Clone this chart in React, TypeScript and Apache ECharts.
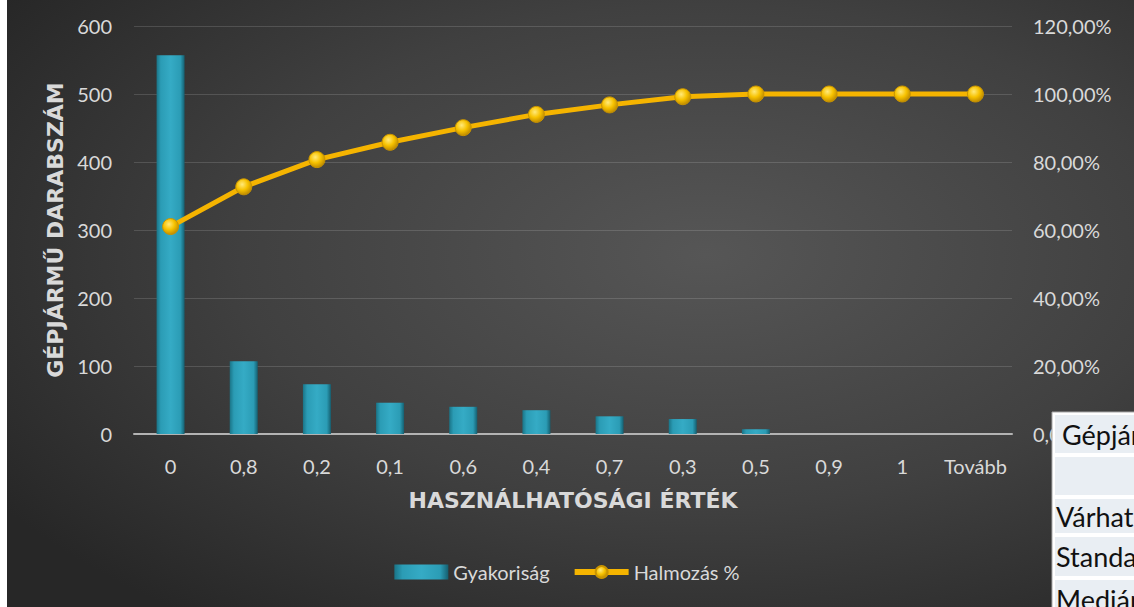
import React, { useEffect, useRef } from "react";
import * as echarts from "echarts";

const categories = ["0", "0,8", "0,2", "0,1", "0,6", "0,4", "0,7", "0,3", "0,5", "0,9", "1", "Tovább"];
const frequency = [557, 107, 73, 46, 40, 35, 26, 22, 7, 0, 0, 0];
const cumulativePct = [61.0, 72.7, 80.7, 85.8, 90.1, 94.0, 96.8, 99.2, 100, 100, 100, 100];
const tableLabels = ["Gépjármű", "", "Várható érték", "Standard hiba", "Medián"];

const FONT = "Lato, 'Open Sans', sans-serif";
const TITLE_FONT = "'DejaVu Sans', Lato, sans-serif";
const LABEL_COLOR = "#d9d9d9";

export default function App() {
  const ref = useRef<HTMLDivElement>(null);

  useEffect(() => {
    document.body.style.margin = "0";
    if (!ref.current) return;
    const chart = echarts.init(ref.current, undefined, { renderer: "svg" });

    const rows = [
      { y: 413, h: 40 },
      { y: 455, h: 40 },
      { y: 497, h: 36 },
      { y: 535, h: 41 },
      { y: 578, h: 40 },
    ];
    const tableGraphics: any[] = [
      { type: "rect", z: 100, shape: { x: 1052, y: 412, width: 90, height: 200 }, style: { fill: "#ffffff", stroke: "#a6a6a6", lineWidth: 1 } },
    ];
    rows.forEach((r, i) => {
      tableGraphics.push({ type: "rect", z: 101, shape: { x: 1055, y: r.y + 2, width: 90, height: r.h - 2 }, style: { fill: "#e9eef3" } });
      if (tableLabels[i]) {
        tableGraphics.push({
          type: "text", z: 102, x: i === 0 ? 1062 : 1056, y: r.y + 2 + (r.h - 2) / 2,
          style: { text: tableLabels[i], fill: "#111111", font: `27px ${FONT}`, verticalAlign: "middle", align: "left" },
        });
      }
    });

    const option: any = {
      animation: false,
      backgroundColor: "#ffffff",
      graphic: [
        {
          type: "rect", z: -10, silent: true,
          shape: { x: 7, y: 0, width: 1127, height: 607 },
          style: {
            fill: new echarts.graphic.RadialGradient(0.62, 0.42, 0.75, [
              { offset: 0, color: "#565656" },
              { offset: 0.55, color: "#404040" },
              { offset: 1, color: "#272727" },
            ]),
          },
        },
        ...tableGraphics,
      ],
      grid: { left: 134, right: 122, top: 26, bottom: 173 },
      legend: {
        top: 557,
        left: "center",
        itemGap: 22,
        itemWidth: 54,
        itemHeight: 15,
        textStyle: { color: LABEL_COLOR, fontSize: 20, fontFamily: FONT },
        data: [
          { name: "Gyakoriság", icon: "rect" },
          { name: "Halmozás %", lineStyle: { width: 6 } },
        ],
      },
      xAxis: {
        type: "category",
        data: categories,
        name: "HASZNÁLHATÓSÁGI ÉRTÉK",
        nameLocation: "middle",
        nameGap: 55,
        nameTextStyle: { color: LABEL_COLOR, fontSize: 22, fontWeight: "bold", fontFamily: TITLE_FONT },
        axisLine: { lineStyle: { color: "#b3b3b3", width: 2 } },
        axisTick: { show: false },
        axisLabel: { color: LABEL_COLOR, fontSize: 20, fontFamily: FONT, margin: 22, interval: 0 },
      },
      yAxis: [
        {
          type: "value",
          min: 0, max: 600, interval: 100,
          name: "GÉPJÁRMŰ DARABSZÁM",
          nameLocation: "middle",
          nameGap: 63,
          nameRotate: 90,
          nameTextStyle: { color: LABEL_COLOR, fontSize: 22, fontWeight: "bold", fontFamily: TITLE_FONT },
          axisLine: { show: false },
          axisTick: { show: false },
          axisLabel: { color: LABEL_COLOR, fontSize: 20, fontFamily: FONT, margin: 22 },
          splitLine: { lineStyle: { color: "rgba(255,255,255,0.14)", width: 1 } },
        },
        {
          type: "value",
          min: 0, max: 120, interval: 20,
          position: "right",
          axisLine: { show: false },
          axisTick: { show: false },
          splitLine: { show: false },
          axisLabel: {
            color: LABEL_COLOR, fontSize: 20, fontFamily: FONT, margin: 21,
            formatter: (v: number) => v.toFixed(2).replace(".", ",") + "%",
          },
        },
      ],
      series: [
        {
          name: "Gyakoriság",
          type: "bar",
          data: frequency,
          barWidth: 28,
          itemStyle: {
            color: new echarts.graphic.LinearGradient(0, 0, 1, 0, [
              { offset: 0, color: "#1a7487" },
              { offset: 0.15, color: "#2b9cb5" },
              { offset: 0.5, color: "#35abc5" },
              { offset: 0.85, color: "#2b9cb5" },
              { offset: 1, color: "#155f70" },
            ]),
          },
        },
        {
          name: "Halmozás %",
          type: "line",
          yAxisIndex: 1,
          data: cumulativePct,
          symbol: "circle",
          symbolSize: 16,
          lineStyle: { color: "#f5b400", width: 5 },
          itemStyle: {
            color: new echarts.graphic.RadialGradient(0.4, 0.35, 0.7, [
              { offset: 0, color: "#ffe97a" },
              { offset: 0.5, color: "#f7c200" },
              { offset: 1, color: "#b88400" },
            ]),
            borderColor: "#c99400",
            borderWidth: 1,
          },
        },
      ],
    };
    chart.setOption(option);
    return () => chart.dispose();
  }, []);

  return <div ref={ref} style={{ width: 1134, height: 607 }} />;
}
